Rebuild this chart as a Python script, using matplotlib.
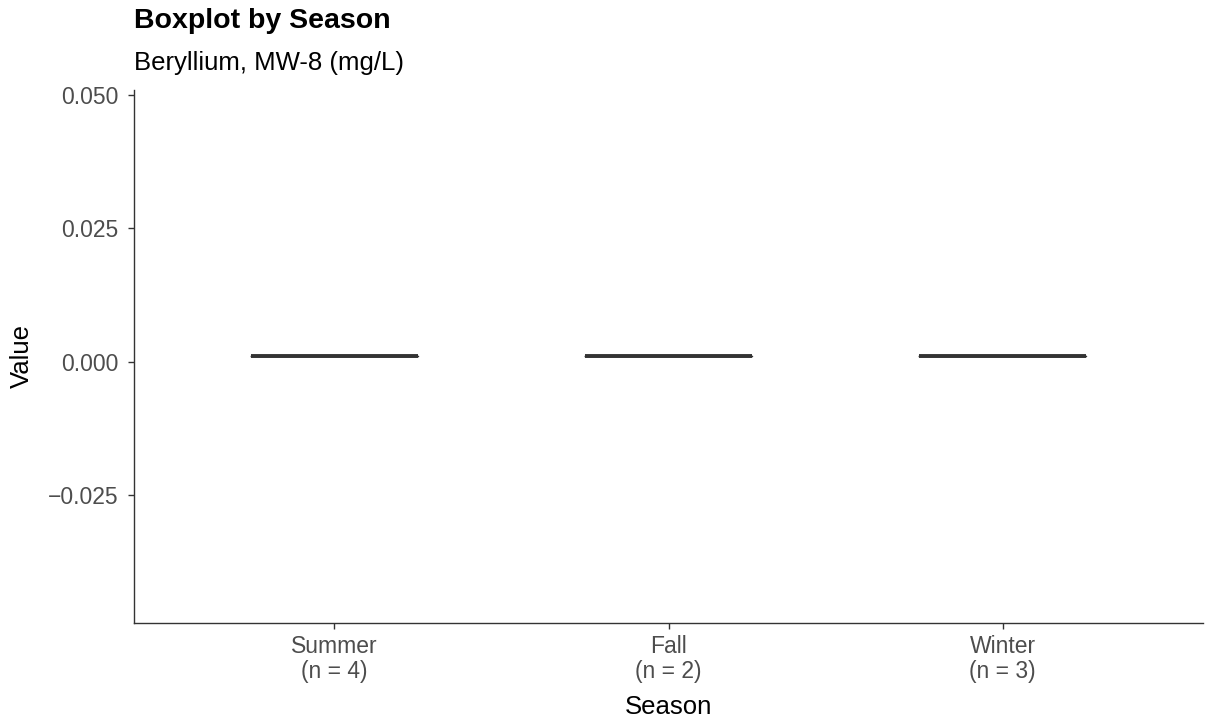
import matplotlib
matplotlib.use("Agg")
import matplotlib.pyplot as plt

plt.rcParams['font.family'] = ['Liberation Sans', 'DejaVu Sans']

seasons = ["Summer", "Fall", "Winter"]
summer_vals = [0.001, 0.001, 0.001, 0.001]
fall_vals = [0.001, 0.001]
winter_vals = [0.001, 0.001, 0.001]
yticks = [-0.025, 0.000, 0.025, 0.050]
ytick_labels = ["\u22120.025", "0.000", "0.025", "0.050"]

data = [summer_vals, fall_vals, winter_vals]
labels = [f"{s}\n(n = {len(d)})" for s, d in zip(seasons, data)]

W, H = 1205, 725
fig = plt.figure(figsize=(W / 100, H / 100), dpi=100)
ax = fig.add_axes([134 / W, (H - 623) / H, (1203 - 134) / W, (623 - 90) / H])

dark = "#333333"
ax.boxplot(data, positions=[1, 2, 3], widths=0.5, showfliers=False,
           boxprops=dict(color=dark, linewidth=1.0),
           whiskerprops=dict(color=dark, linewidth=1.0),
           capprops=dict(linewidth=0),
           medianprops=dict(color=dark, linewidth=2.8, solid_capstyle='butt'))

ax.set_xlim(0.4, 3.6)
ax.set_ylim(-0.0489, 0.0509)
ax.set_yticks(yticks)
ax.set_yticklabels(ytick_labels)
ax.set_xticks([1, 2, 3])
ax.set_xticklabels(labels, linespacing=1.12)

for side in ["top", "right"]:
    ax.spines[side].set_visible(False)
for side in ["left", "bottom"]:
    ax.spines[side].set_color(dark)
    ax.spines[side].set_linewidth(1.0)

ax.tick_params(axis='both', colors=dark, labelcolor="#4D4D4D", labelsize=16.5,
               length=4.5, width=1.0)
ax.tick_params(axis='y', pad=6.5)
ax.tick_params(axis='x', pad=4)

ax.set_xlabel("Season", fontsize=18.5, color="black", labelpad=9)
ax.set_ylabel("Value", fontsize=18.5, color="black", labelpad=10)

fig.text(134 / W, 1 - 28 / H, "Boxplot by Season", fontsize=20.5, fontweight='bold',
         color="black", ha='left', va='baseline')
fig.text(134 / W, 1 - 70 / H, "Beryllium, MW-8 (mg/L)", fontsize=18.5,
         color="black", ha='left', va='baseline')

fig.savefig("out.png", dpi=100)
